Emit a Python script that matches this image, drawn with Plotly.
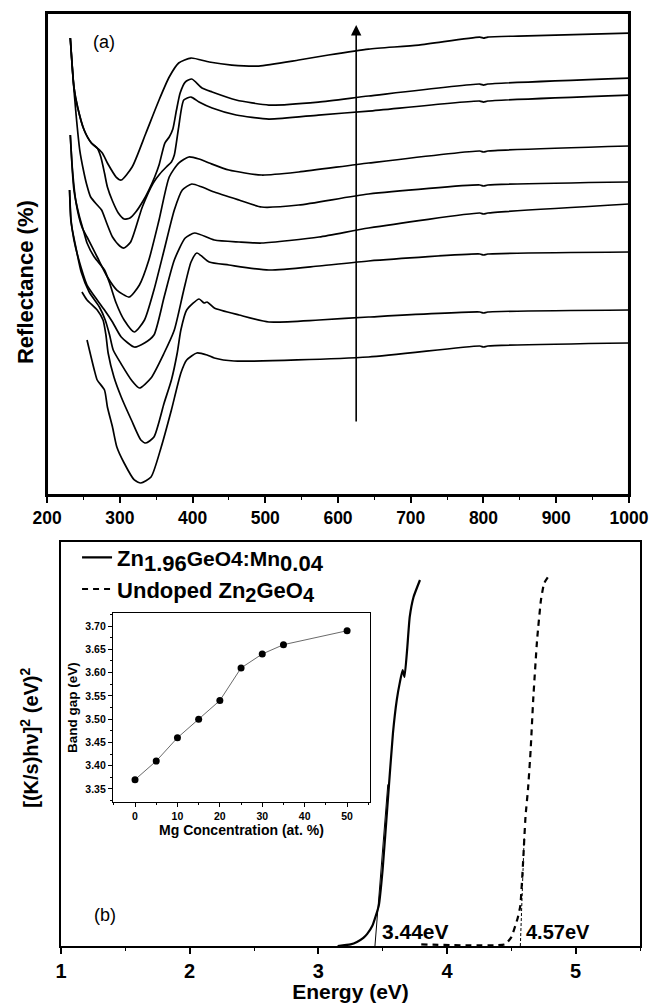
import plotly.graph_objects as go

# ---------------- panel (a): reflectance spectra (arbitrary offsets) ----------------
wl_A = [232,237,242,251,261,269,276,283,295,302,317,336,354,368,381,398,423,454,491,546,587,642,711,795,800,806,848,1000]
r_A  = [457,408,388,365,352,347,342,332,318,315,328,362,395,418,432,437,433,430,429,435,440,446,450,458,457,458,459,462]

wl_B = [232,237,242,251,261,269,274,279,283,290,298,306,314,322,332,340,348,354,362,368,373,378,383,390,399,413,427,460,505,573,642,795,800,806,1000]
r_B  = [457,408,388,365,352,347,338,322,308,294,282,276,277,283,294,305,318,330,352,358,366,385,402,413,416,407,403,395,390,393,399,411,410,411,417]

wl_C = [232,236,240,245,250,254,260,269,275,282,290,300,306,315,331,346,355,364,371,375,381,388,398,409,427,460,505,573,642,795,800,806,1000]
r_C  = [457,415,380,345,325,312,298,290,285,272,258,249,247,253,288,312,321,328,333,340,368,395,398,393,387,380,376,380,384,394,393,394,400]

wl_D = [232,235,240,248,255,269,283,296,313,327,340,354,368,381,395,409,423,450,495,546,642,795,800,806,1000]
r_D  = [360,325,292,268,258,238,218,205,198,210,235,275,318,332,338,336,332,325,320,323,332,344,343,344,349]

wl_E = [232,237,244,251,255,265,279,286,295,306,320,334,347,361,375,386,399,413,430,464,495,546,642,795,800,806,1000]
r_E  = [360,305,280,262,252,238,225,212,192,175,163,175,205,245,285,305,311,308,303,295,288,290,301,310,309,310,313]

wl_F = [231,233,237,247,255,269,279,290,302,320,334,347,361,375,390,403,430,464,495,574,642,795,800,806,1000]
r_F  = [305,275,255,227,210,195,185,173,158,148,152,160,198,235,257,262,255,253,252,258,267,282,281,282,291]

wl_G = [231,233,239,247,258,272,280,286,291,302,316,327,343,361,375,388,398,406,423,450,505,574,642,795,800,806,1000]
r_G  = [305,273,250,223,203,188,175,160,145,131,115,107,117,142,165,205,233,242,233,230,225,229,234,241,240,241,243]

wl_H = [248,255,269,277,281,284,292,302,316,329,336,347,361,371,379,384,392,409,416,420,430,464,505,574,642,795,800,806,1000]
r_H  = [203,195,185,175,160,142,118,98,75,55,52,58,92,115,142,165,185,196,192,193,187,180,173,175,178,183,182,183,185]

wl_I = [255,265,269,279,283,290,296,306,320,329,343,357,371,384,392,406,420,430,457,642,795,800,806,1000]
r_I  = [155,125,115,105,88,68,48,32,15,12,18,48,85,122,135,142,140,137,134,138,149,148,149,152]

spectra = [(wl_A, r_A), (wl_B, r_B), (wl_C, r_C), (wl_D, r_D), (wl_E, r_E),
           (wl_F, r_F), (wl_G, r_G), (wl_H, r_H), (wl_I, r_I)]

arrow_wl = 625
arrow_from = 72
arrow_to = 470

# ---------------- panel (b): Kubelka-Munk plots ----------------
E_doped = [3.15,3.25,3.30,3.35,3.38,3.42,3.47,3.50,3.54,3.58,3.61,3.635,3.655,3.67,3.69,3.71,3.74,3.79]
S_doped = [0.0,0.004,0.01,0.02,0.03,0.05,0.10,0.19,0.36,0.527,0.61,0.655,0.683,0.666,0.733,0.814,0.864,0.906]

E_undoped = [3.80,4.45,4.50,4.55,4.57,4.59,4.61,4.63,4.65,4.67,4.70,4.73,4.755,4.80]
S_undoped = [0.004,0.004,0.022,0.07,0.10,0.20,0.32,0.39,0.485,0.61,0.757,0.856,0.898,0.92]

tan_doped_E = [3.44, 3.54]
tan_doped_S = [0.0, 0.40]
tan_undoped_E = [4.57, 4.60]
tan_undoped_S = [0.0, 0.27]

gap_doped = 3.44
gap_undoped = 4.57

# ---------------- inset ----------------
mg_conc = [0, 5, 10, 15, 20, 25, 30, 35, 50]
band_gap = [3.37, 3.41, 3.46, 3.50, 3.54, 3.61, 3.64, 3.66, 3.69]

FONT = "Liberation Sans, Arial, sans-serif"

fig = go.Figure()

for wl, r in spectra:
    fig.add_trace(go.Scatter(x=wl, y=r, mode="lines", xaxis="x", yaxis="y",
                             line=dict(color="black", width=1.7, shape="spline", smoothing=0.6),
                             showlegend=False, hoverinfo="skip"))

fig.add_trace(go.Scatter(x=E_doped, y=S_doped, mode="lines", xaxis="x2", yaxis="y2",
                         name="<b>Zn<sub><span style='font-size:22px'>1.96</span></sub>"
                              "<span style='font-size:21px'>GeO4:Mn</span>"
                              "<sub><span style='font-size:22px'>0.04</span></sub></b>",
                         line=dict(color="black", width=2.2, shape="spline", smoothing=0.4)))
fig.add_trace(go.Scatter(x=E_undoped, y=S_undoped, mode="lines", xaxis="x2", yaxis="y2",
                         name="<b>Undoped Zn<sub><span style='font-size:20px'>2</span></sub>GeO"
                              "<sub><span style='font-size:20px'>4</span></sub></b>",
                         line=dict(color="black", width=2.2, dash="6px,5px", shape="spline", smoothing=0.4)))
fig.add_trace(go.Scatter(x=tan_doped_E, y=tan_doped_S, mode="lines", xaxis="x2", yaxis="y2",
                         line=dict(color="black", width=1), showlegend=False, hoverinfo="skip"))
fig.add_trace(go.Scatter(x=tan_undoped_E, y=tan_undoped_S, mode="lines", xaxis="x2", yaxis="y2",
                         line=dict(color="black", width=1, dash="3px,2px"), showlegend=False, hoverinfo="skip"))

fig.add_trace(go.Scatter(x=mg_conc, y=band_gap, mode="lines+markers", xaxis="x3", yaxis="y3",
                         line=dict(color="#444444", width=0.8),
                         marker=dict(color="black", size=7),
                         showlegend=False, hoverinfo="skip"))

axis_common = dict(showgrid=False, zeroline=False, showline=True, linecolor="black",
                   mirror=True, automargin=False)

fig.update_layout(
    width=653, height=1003,
    margin=dict(l=0, r=0, t=0, b=0),
    paper_bgcolor="white", plot_bgcolor="white",
    font=dict(family=FONT, color="black"),
    xaxis=dict(domain=[0.0720, 0.9632], range=[200, 1000], anchor="y",
               ticks="outside", tick0=200, dtick=100, ticklen=6, tickwidth=1.5,
               minor=dict(ticks="outside", dtick=50, ticklen=3, tickwidth=1.2, tickcolor="black"),
               tickcolor="black", linewidth=2,
               tickfont=dict(family=FONT, size=17.5, color="black", weight="bold"), **axis_common),
    yaxis=dict(domain=[0.5065, 0.9870], range=[0, 482], anchor="x",
               showticklabels=False, ticks="", linewidth=2, **axis_common),
    xaxis2=dict(domain=[0.0934, 0.9801], range=[1, 5.5], anchor="y2",
                ticks="outside", tick0=1, dtick=1, ticklen=6, tickwidth=1.5,
                minor=dict(ticks="outside", dtick=0.5, ticklen=3, tickwidth=1.2, tickcolor="black"),
                tickcolor="black", linewidth=2,
                tickfont=dict(family=FONT, size=20, color="black", weight="bold"),
                title=dict(text="<b>Energy (eV)</b>", font=dict(family=FONT, size=21), standoff=1),
                **axis_common),
    yaxis2=dict(domain=[0.0568, 0.4596], range=[0, 1], anchor="x2",
                showticklabels=False, ticks="", linewidth=2, **axis_common),
    xaxis3=dict(domain=[0.1730, 0.5666], range=[-5.2, 55.4], anchor="y3",
                ticks="outside", tick0=0, dtick=10, ticklen=4, tickwidth=1,
                minor=dict(ticks="outside", dtick=5, ticklen=2, tickwidth=1, tickcolor="black"),
                tickcolor="black", linewidth=1.2,
                tickfont=dict(family=FONT, size=10.5, color="black", weight="bold"),
                title=dict(text="<b>Mg Concentration (at. %)</b>", font=dict(family=FONT, size=14), standoff=2),
                **axis_common),
    yaxis3=dict(domain=[0.2004, 0.3888], range=[3.322, 3.728], anchor="x3",
                ticks="outside", tick0=3.35, dtick=0.05, ticklen=4, tickwidth=1,
                tickformat=".2f",
                minor=dict(ticks="outside", dtick=0.025, ticklen=2, tickwidth=1, tickcolor="black"),
                tickcolor="black", linewidth=1.2,
                tickfont=dict(family=FONT, size=10.5, color="black", weight="bold"),
                title=dict(text="<b>Band gap (eV)</b>", font=dict(family=FONT, size=13.5), standoff=4),
                **axis_common),
    legend=dict(x=0.118, y=0.4650, xanchor="left", yanchor="top",
                bgcolor="rgba(0,0,0,0)", borderwidth=0,
                font=dict(family=FONT, size=22, color="black"),
                tracegroupgap=0, itemwidth=30),
    showlegend=True,
)

# frame of panel (a)
fig.add_shape(type="rect", xref="x domain", yref="y domain", x0=0, x1=1, y0=0, y1=1,
              line=dict(color="black", width=2), fillcolor="rgba(0,0,0,0)", layer="above")

# axis titles placed as rotated annotations
fig.add_annotation(x=0.0383, y=0.7188, xref="paper", yref="paper", textangle=-90,
                   xanchor="center", yanchor="middle",
                   text="<b>Reflectance (%)</b>", showarrow=False,
                   font=dict(family=FONT, size=22, color="black"))
fig.add_annotation(x=0.0440, y=0.2642, xref="paper", yref="paper", textangle=-90,
                   xanchor="center", yanchor="middle",
                   text="<b>[(K/s)h\u03bd]<sup>2</sup> (eV)<sup>2</sup></b>", showarrow=False,
                   font=dict(family=FONT, size=20, color="black"))

fig.add_annotation(x=arrow_wl, y=arrow_to, ax=arrow_wl, ay=arrow_from, xref="x", yref="y",
                   axref="x", ayref="y", showarrow=True, arrowhead=2, arrowsize=1.3,
                   arrowwidth=1.6, arrowcolor="black", text="")
fig.add_annotation(x=278, y=453, xref="x", yref="y", text="(a)", showarrow=False,
                   font=dict(family=FONT, size=18, color="black"))
fig.add_annotation(x=1.34, y=0.077, xref="x2", yref="y2", text="(b)", showarrow=False,
                   font=dict(family=FONT, size=18, color="black"))
fig.add_annotation(x=gap_doped + 0.04, y=0.035, xref="x2", yref="y2", xanchor="left",
                   text="<b>%.2feV</b>" % gap_doped, showarrow=False,
                   font=dict(family=FONT, size=21, color="black"))
fig.add_annotation(x=gap_undoped + 0.025, y=0.035, xref="x2", yref="y2", xanchor="left",
                   text="<b>%.2feV</b>" % gap_undoped, showarrow=False,
                   font=dict(family=FONT, size=20, color="black"))

fig.write_html("out.html", config={"displayModeBar": False},
               post_script="document.body.style.margin='0px';document.body.style.overflow='hidden';")
